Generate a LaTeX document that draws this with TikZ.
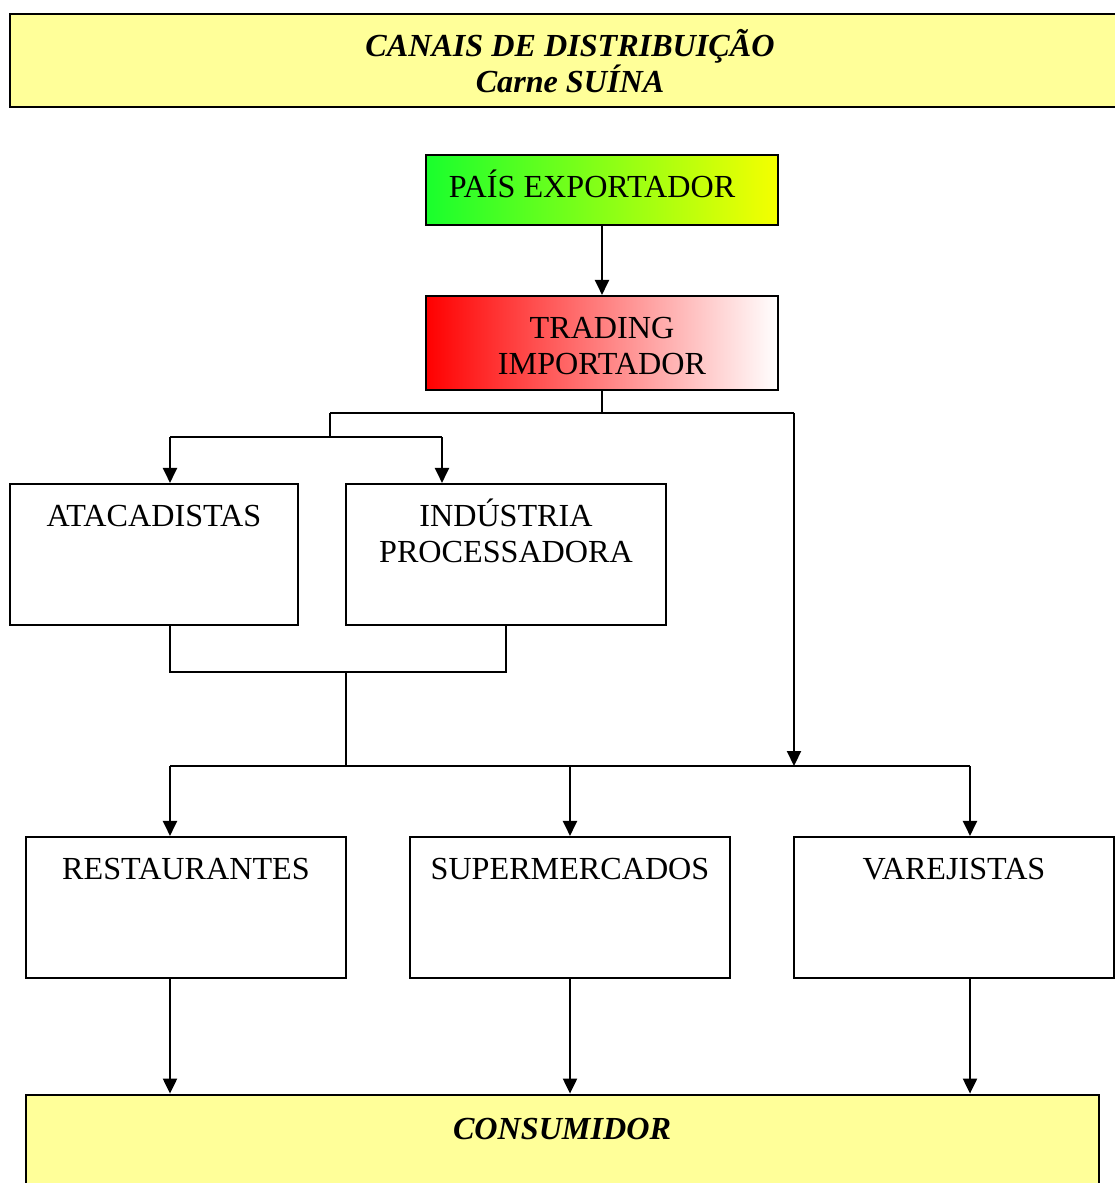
\documentclass[tikz,border=0pt]{standalone}
\usepackage{fontspec}
\setmainfont{Liberation Serif}
\usetikzlibrary{arrows.meta}
\definecolor{paleyellow}{RGB}{255,255,153}
\definecolor{greenL}{RGB}{25,255,45}
\definecolor{yellowR}{RGB}{245,255,0}
\definecolor{redL}{RGB}{255,0,0}
\tikzset{
  boxnode/.style={draw=black, line width=1.2pt, rectangle, inner sep=0pt},
  lbl/.style={anchor=base, inner sep=0pt, font=\fontsize{18.3}{21}\selectfont},
  ttl/.style={anchor=base, inner sep=0pt, font=\fontsize{18.3}{21}\selectfont\bfseries\itshape},
  wire/.style={line width=1.2pt},
  arr/.style={line width=1.2pt, -{Triangle[length=0.3cm,width=0.28cm]}}
}
\begin{document}
\begin{tikzpicture}[x=0.02cm,y=-0.02cm]
\useasboundingbox (0,0) rectangle (1115,1183);
% title
\node[boxnode, line width=1.6pt, fill=paleyellow, minimum width=1110*0.02cm, minimum height=93*0.02cm] (title) at (565,60.5) {};
\node[ttl] (t1) at (570,56) {CANAIS DE DISTRIBUIÇÃO};
\node[ttl] (t2) at (570,92) {Carne SUÍNA};
% pais exportador
\node[boxnode, left color=greenL, right color=yellowR, minimum width=352*0.02cm, minimum height=70*0.02cm] (pais) at (602,190) {};
\node[lbl] (paist) at (592,197) {PAÍS EXPORTADOR};
% trading
\node[boxnode, left color=redL, right color=white, minimum width=352*0.02cm, minimum height=94*0.02cm] (trading) at (602,343) {};
\node[lbl] (tr1) at (602,338) {TRADING};
\node[lbl] (tr2) at (602,374) {IMPORTADOR};
% second level
\node[boxnode, fill=white, minimum width=288*0.02cm, minimum height=141*0.02cm] (atac) at (154,554.5) {};
\node[lbl] (atact) at (154,526) {ATACADISTAS};
\node[boxnode, fill=white, minimum width=320*0.02cm, minimum height=141*0.02cm] (ind) at (506,554.5) {};
\node[lbl] (ind1) at (506,526) {INDÚSTRIA};
\node[lbl] (ind2) at (506,562) {PROCESSADORA};
% third level
\node[boxnode, fill=white, minimum width=320*0.02cm, minimum height=141*0.02cm] (rest) at (186,907.5) {};
\node[lbl] (restt) at (186,879) {RESTAURANTES};
\node[boxnode, fill=white, minimum width=320*0.02cm, minimum height=141*0.02cm] (super) at (570,907.5) {};
\node[lbl] (supert) at (570,879) {SUPERMERCADOS};
\node[boxnode, fill=white, minimum width=320*0.02cm, minimum height=141*0.02cm] (var) at (954,907.5) {};
\node[lbl] (vart) at (954,879) {VAREJISTAS};
% consumidor
\node[boxnode, line width=1.6pt, fill=paleyellow, minimum width=1073*0.02cm, minimum height=110*0.02cm] (cons) at (562.5,1150) {};
\node[ttl] (const) at (562,1139) {CONSUMIDOR};
% connectors
\coordinate (j1) at (330,413);
\coordinate (j2) at (794,413);
\coordinate (j3) at (330,437);
\coordinate (j4) at (170,437);
\coordinate (j5) at (442,437);
\coordinate (k1) at (170,672);
\coordinate (k2) at (506,672);
\coordinate (k3) at (346,672);
\coordinate (m0) at (346,766);
\coordinate (m1) at (170,766);
\coordinate (m2) at (570,766);
\coordinate (m3) at (970,766);
\coordinate (m4) at (794,766);
\draw[arr] (pais.south) -- (trading.north);
\draw[wire] (trading.south) -- (trading.south |- j1);
\draw[wire] (j1) -- (j2);
\draw[arr] (j2) -- (m4);
\draw[wire] (j1) -- (j3);
\draw[wire] (j4) -- (j5);
\draw[arr] (j4) -- (atac.north -| j4);
\draw[arr] (j5) -- (ind.north -| j5);
\draw[wire] (atac.south -| k1) -- (k1) -- (k2) -- (ind.south -| k2);
\draw[wire] (k3) -- (m0);
\draw[wire] (m1) -- (m3);
\draw[arr] (m1) -- (rest.north -| m1);
\draw[arr] (m2) -- (super.north -| m2);
\draw[arr] (m3) -- (var.north -| m3);
\draw[arr] (rest.south -| m1) -- (cons.north -| m1);
\draw[arr] (super.south -| m2) -- (cons.north -| m2);
\draw[arr] (var.south -| m3) -- (cons.north -| m3);
\end{tikzpicture}
\end{document}
